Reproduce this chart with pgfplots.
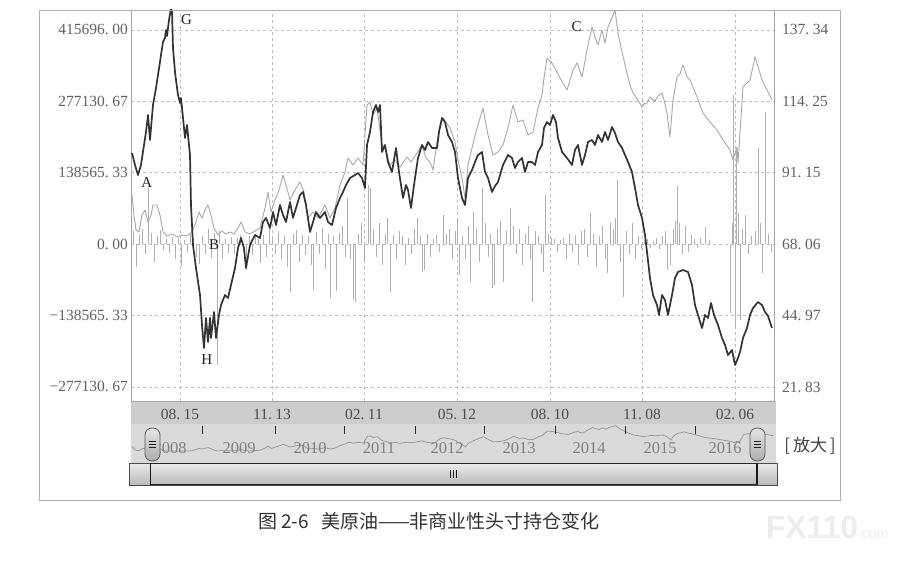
\documentclass[border=0pt]{standalone}
\usepackage{fontspec}
\setmainfont{Liberation Serif}
\newfontfamily\cjk{Noto Sans CJK SC}
\newfontfamily\wmfont{Liberation Sans}
\usepackage{pgfplots}
\usepackage{pgfplotstable}
\pgfplotsset{compat=1.18}
\definecolor{darkc}{HTML}{333333}
\definecolor{lightc}{HTML}{A8A8A8}
\definecolor{barc}{HTML}{B0B0B0}
\definecolor{datebar}{HTML}{CDCDCD}
\definecolor{navbg}{HTML}{DADADA}
\definecolor{gridc}{HTML}{BBBBBB}

\pgfplotstableread{
x v
1 95094
3 56280
5 27170
8 23288
11 56280
14 65984
17 42695
20 56280
22 75687
26 75687
29 56280
32 23288
36 15526
41 19407
46 13585
51 17466
56 15526
61 23288
65 42695
68 62102
71 50458
74 65984
77 75687
80 56280
83 31049
87 17466
91 25229
95 19407
99 23288
103 19407
107 31049
110 42695
114 23288
119 19407
124 25229
129 31049
134 69865
137 100916
140 62102
144 85411
148 104798
152 133908
155 114501
159 85411
165 108679
169 120323
173 100916
177 50458
182 62102
187 50458
194 75687
199 50458
204 69865
209 114501
214 139730
217 166900
222 153315
227 166900
232 153315
236 269757
239 275579
242 250350
246 263935
251 192129
254 186307
259 153315
264 163019
269 149434
276 168841
280 159137
286 176604
291 192129
295 166900
299 159137
302 143612
306 196011
309 230943
312 244528
319 225121
324 197951
327 163019
331 128086
334 89272
337 153315
341 186307
346 225121
352 263935
357 211536
362 172722
367 178544
372 192129
377 225121
382 269757
387 236765
392 240647
397 211536
402 217358
407 263935
411 289164
413 322156
416 360970
421 351267
426 333800
430 318275
436 298868
442 337682
446 351267
451 324097
456 376496
461 421132
464 401725
467 386199
471 415310
474 390081
477 421132
481 438598
484 454124
487 409488
491 372614
496 331860
499 308571
502 293046
507 279461
511 265876
513 271698
516 273639
519 285283
524 277520
527 287224
531 293046
533 279461
536 254232
539 207655
542 279461
546 324097
549 329919
552 347385
556 324097
559 318275
566 285283
572 254232
579 236765
586 221240
592 201833
599 182426
602 163019
606 188248
607 157197
612 304690
619 318275
624 362911
631 318275
636 298868
641 279461
}\lighttab

\pgfplotstableread{
x v
1 97.49
4 93.61
7 90.37
10 93.61
13 100.08
15 104.28
17 109.78
19 101.69
20 105.57
22 113.01
25 118.51
27 122.71
29 126.92
30 129.18
32 133.38
34 134.68
35 137.27
36 135.33
38 140.50
40 144.38
41 143.09
42 131.44
44 123.68
45 121.10
47 116.25
49 113.66
50 115.27
52 108.81
54 102.34
56 106.54
59 96.84
60 80.67
62 67.74
65 60.30
69 51.57
71 41.87
73 34.43
75 44.13
77 36.37
79 44.13
80 37.66
83 46.07
85 37.66
88 45.10
90 48.33
94 51.57
97 50.60
100 54.80
104 60.30
107 66.77
110 70.00
113 66.77
115 60.30
119 67.74
124 70.97
129 70.00
132 75.17
135 76.47
139 73.23
142 78.41
145 74.20
149 80.67
152 77.44
155 75.17
159 81.64
162 76.47
165 79.70
169 83.91
172 84.88
175 80.67
179 71.94
182 75.17
185 78.41
189 76.47
194 78.41
197 75.17
201 74.20
205 79.70
209 82.94
212 84.88
215 87.14
219 89.40
224 90.37
227 91.02
231 89.40
234 86.17
236 100.08
239 104.28
242 110.75
245 113.01
247 110.75
249 113.01
251 97.81
254 100.08
257 94.58
261 91.34
265 99.11
268 91.34
272 82.94
275 87.14
277 85.52
280 79.70
283 87.14
287 95.87
291 100.08
294 98.46
297 101.05
301 99.11
306 99.11
308 104.28
311 108.81
314 107.51
317 103.31
321 101.05
324 97.81
327 89.40
331 82.94
334 80.67
337 89.40
341 91.99
344 94.58
347 96.84
351 97.81
354 91.34
357 89.40
361 84.88
364 86.82
367 88.11
372 93.61
377 96.84
381 95.87
384 92.64
387 94.58
391 95.87
394 91.34
397 94.58
401 94.58
404 93.61
407 97.81
411 100.08
413 105.57
416 107.51
419 106.54
422 109.78
425 107.51
427 102.34
431 97.81
436 95.87
441 93.61
444 98.46
447 100.08
451 93.61
454 96.84
457 101.05
461 101.69
464 100.08
467 103.31
471 101.05
474 104.28
477 101.69
481 105.90
484 103.96
487 101.05
491 99.11
494 96.84
497 94.58
501 91.34
504 86.17
507 80.67
511 76.47
514 70.97
516 65.47
519 57.06
522 51.57
526 48.33
528 45.10
531 51.57
534 49.95
537 45.10
541 51.57
544 57.06
547 59.01
552 59.65
557 59.01
561 54.80
564 48.33
567 45.10
571 40.90
574 45.10
577 44.13
580 48.98
583 45.10
587 41.87
591 37.66
594 35.40
597 32.16
601 33.78
604 28.93
607 31.19
609 33.13
612 37.66
616 40.90
619 45.10
622 47.36
627 49.30
631 48.33
634 46.07
637 44.78
641 40.90
}\darktab

\begin{document}
\begin{tikzpicture}[x=1pt,y=1pt]
\path[use as bounding box] (0,0) rectangle (904,579);
\fill[white] (0,0) rectangle (904,579);
% date strip and navigator background
\fill[datebar] (131,155) rectangle (775.5,178);
\fill[navbg] (131,116) rectangle (775.5,155);

% ---------- main axis (left scale) ----------
\begin{axis}[
  at={(131pt,178pt)}, anchor=south west, scale only axis,
  width=643pt, height=391pt,
  xmin=0, xmax=643, ymin=-304690, ymax=454124,
  scaled y ticks=false, scaled x ticks=false,
  axis line style={draw=gray!70, line width=0.8pt},
  xtick={49,141,233,326,419,511,604},
  xticklabels={08.\hspace{3.5pt}15,11.\hspace{3.5pt}13,02.\hspace{3.5pt}11,05.\hspace{3.5pt}12,08.\hspace{3.5pt}10,11.\hspace{3.5pt}08,02.\hspace{3.5pt}06},
  ytick={-277130.67,-138565.33,0,138565.33,277130.67,415696},
  yticklabels={−277130.\hspace{3.5pt}67,−138565.\hspace{3.5pt}33,0.\hspace{3.5pt}00,138565.\hspace{3.5pt}33,277130.\hspace{3.5pt}67,415696.\hspace{3.5pt}00},
  major tick length=0pt,
  xmajorgrids, ymajorgrids,
  grid style={gridc, dash pattern=on 3pt off 3pt, line width=0.6pt},
  tick label style={font=\fontsize{15.5}{16}\selectfont, text=black!62},
  yticklabel style={inner sep=0pt, xshift=-3pt},
  xticklabel style={anchor=center, inner sep=0pt, yshift=-13.5pt, text=black!70},
]
\addplot[ycomb, draw=barc, line width=0.6pt] coordinates {
(2,25000) (5,-45000) (8,18000) (11,30000) (14,-20000) (17,108000) (20,22000) (23,-35000)
(26,15000) (29,28000) (32,-12000) (35,10000) (38,-18000) (41,14000) (44,-30000) (47,12000)
(50,-42000) (53,8000) (56,-15000) (59,20000) (62,12000) (65,-25000) (68,-38000) (71,15000)
(74,-20000) (77,30000) (80,-28000) (83,22000) (86,-234000) (88,25000) (91,-30000) (94,10000)
(97,-18000) (100,14000) (103,-20000) (106,12000) (109,18000) (112,-15000) (115,-50000) (118,16000)
(121,-22000) (124,20000) (127,10000) (129,-36000) (132,18000) (135,-25000) (138,30000) (141,12000)
(144,-20000) (147,25000) (150,-30000) (153,15000) (156,-45000) (159,-93000) (162,20000) (165,28000)
(168,-35000) (171,18000) (174,-22000) (177,15000) (180,-40000) (182,-89000) (185,24000) (188,-20000)
(191,32000) (194,-48000) (197,20000) (199,-104000) (202,15000) (205,-92000) (208,22000) (211,35000)
(214,-25000) (216,89000) (219,-30000) (222,-108000) (224,-112000) (227,20000) (230,40000) (233,-35000)
(237,114000) (239,108000) (242,30000) (245,-25000) (248,40000) (251,-40000) (254,20000) (256,50000)
(259,-93000) (262,18000) (265,-30000) (268,25000) (271,15000) (274,-40000) (277,12000) (280,-20000)
(283,30000) (286,50000) (289,15000) (291,-54000) (293,-50000) (296,20000) (299,-25000) (302,10000)
(305,18000) (308,-15000) (312,56000) (315,20000) (318,30000) (321,-30000) (324,25000) (326,50000)
(328,-60000) (331,15000) (334,-30000) (337,35000) (339,-74000) (342,62000) (345,30000) (348,-35000)
(351,108000) (354,40000) (357,-25000) (359,20000) (361,-85000) (363,-80000) (366,30000) (369,45000)
(372,-74000) (375,25000) (379,70000) (382,35000) (385,-20000) (388,30000) (391,-40000) (394,20000)
(397,35000) (399,-30000) (401,-112000) (404,25000) (407,15000) (410,-20000) (412,-54000) (414,95000)
(417,20000) (420,12000) (423,10000) (426,-15000) (429,8000) (432,12000) (435,-30000) (438,20000)
(441,-15000) (444,18000) (447,-40000) (450,25000) (453,30000) (456,-25000) (459,60000) (462,20000)
(465,-45000) (468,15000) (471,35000) (474,-30000) (476,-56000) (479,40000) (482,30000) (484,50000)
(486,124000) (489,-35000) (492,-103000) (495,25000) (498,-20000) (501,40000) (504,-30000) (507,15000)
(510,-10000) (513,8000) (516,10000) (519,-8000) (522,6000) (525,12000) (528,-10000) (531,15000)
(534,25000) (536,-50000) (539,-40000) (542,30000) (544,45000) (546,112000) (548,40000) (551,-20000)
(554,35000) (557,-15000) (560,18000) (563,10000) (566,-8000) (569,12000) (574,33000) (578,8000)
(599,-134000) (601,40000) (602,289000) (604,-161000) (605,186000) (607,60000) (609,-147000) (611,30000)
(614,56000) (617,-20000) (620,15000) (624,25000) (627,186000) (629,40000) (631,-56000) (634,256000)
(637,20000) (640,-15000)
};
\addplot[lightc, line width=0.9pt, line join=round] table[x=x,y=v]{\lighttab};
\end{axis}

% ---------- right scale, price line ----------
\begin{axis}[
  at={(131pt,178pt)}, anchor=south west, scale only axis,
  width=643pt, height=391pt,
  xmin=0, xmax=643, ymin=17.29, ymax=143.73,
  scaled y ticks=false, scaled x ticks=false,
  axis x line=none, axis y line*=right,
  axis line style={draw=gray!70, line width=0.8pt},
  xtick=\empty,
  ytick={21.83,44.97,68.06,91.15,114.25,137.34},
  yticklabels={21.\hspace{3.5pt}83,44.\hspace{3.5pt}97,68.\hspace{3.5pt}06,91.\hspace{3.5pt}15,114.\hspace{3.5pt}25,137.\hspace{3.5pt}34},
  major tick length=0pt,
  tick label style={font=\fontsize{15.5}{16}\selectfont, text=black!62},
  yticklabel style={inner sep=0pt, xshift=8pt, anchor=west},
]
\addplot[darkc, line width=1.7pt, line join=round] table[x=x,y=v]{\darktab};
\end{axis}

% ---------- navigator ----------
\begin{axis}[
  at={(131pt,116pt)}, anchor=south west, scale only axis,
  width=644pt, height=39pt,
  xmin=0, xmax=643, ymin=-189000, ymax=481600,
  scaled y ticks=false,
  axis lines=none, xtick=\empty, ytick=\empty,
]
\addplot[gray!85, line width=0.7pt] table[x=x,y=v]{\lighttab};
\end{axis}

\foreach \tx in {202.7,275,344,415,484,555,625,695}
  \draw[gray!35!black, line width=0.9pt] (\tx,145) -- (\tx,153);
\foreach \yx/\yl in {170/2008,239/2009,310/2010,379/2011,447/2012,519/2013,589/2014,660/2015,725/2016}
  \node[font=\fontsize{16.5}{17}\selectfont, text=black!50] at (\yx,131) {\yl};

% handles
\foreach \hx in {145,750} {
  \shade[top color=gray!20, bottom color=gray!65, draw=gray!70!black, rounded corners=7pt, line width=0.8pt] (\hx,118) rectangle ++(15,33);
  \foreach \yy in {131.5,134.5,137.5}
    \draw[gray!25!black, line width=0.8pt] (\hx+4,\yy) -- ++(7,0);
}

% scrollbar
\shade[top color=gray!15, bottom color=gray!55, draw=gray!60!black, line width=0.7pt] (129,94) rectangle (777,116);
\draw[gray!20!black, line width=1.1pt] (150.5,94) -- (150.5,116);
\draw[gray!20!black, line width=1.1pt] (757,94) -- (757,116);
\draw[gray!30!black, line width=1pt] (150.5,115.6) -- (757,115.6);
\draw[gray!30!black, line width=0.8pt] (150.5,94.4) -- (757,94.4);
\foreach \gx in {450,453,456}
  \draw[gray!25!black, line width=0.7pt] (\gx,101) -- (\gx,109);

% zoom button
\node[font=\cjk\fontsize{17}{17}\selectfont, text=black!75] at (810,133) {[\,放大\,]};

% frame
\draw[gray!65, line width=0.9pt] (39.3,79) rectangle (840,569);

% point letters
\begin{scope}[every node/.style={font=\fontsize{15}{15}\selectfont, text=black!88}]
\node at (186.5,559) {G};
\node at (146.7,396) {A};
\node at (214,334) {B};
\node at (206.7,219) {H};
\node at (576.7,552.3) {C};
\end{scope}

% caption
\node[font=\cjk\fontsize{19}{19}\selectfont, text=black!80] at (429,58) {图 2-6\hspace{12pt}美原油——非商业性头寸持仓变化};

% watermark
\node[font=\wmfont\bfseries\fontsize{32}{32}\selectfont, text=gray!14] at (812,52) {FX110};
\node[font=\wmfont\fontsize{14}{14}\selectfont, text=gray!14] at (873,44) {.com};
\end{tikzpicture}
\end{document}
